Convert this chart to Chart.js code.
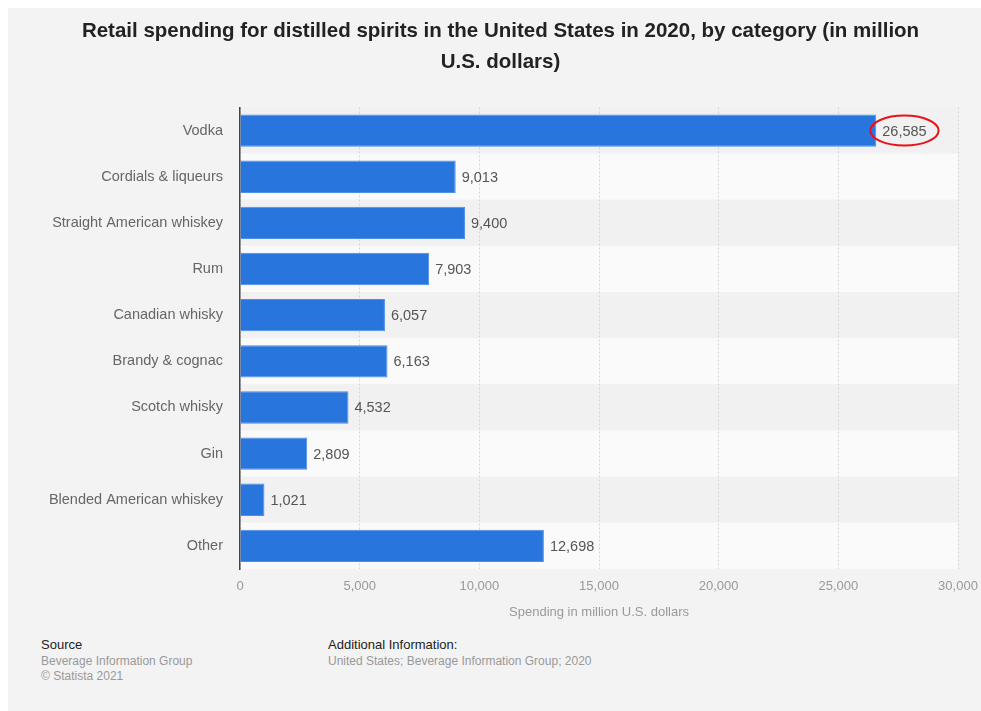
<!DOCTYPE html>
<html>
<head>
<meta charset="utf-8">
<script src="https://cdn.jsdelivr.net/npm/chart.js@4/dist/chart.umd.min.js"></script>
<style>
  body { margin: 0; background: #fff; overflow: hidden; font-family: "Liberation Sans", Arial, sans-serif; }
  #panel { position: absolute; left: 8px; top: 8px; width: 973px; height: 703px; background: #f3f3f3; }
  #spirits { position: absolute; left: 0; top: 0; }
  .foot { position: absolute; font-size: 12px; line-height: 15px; color: #999; }
  .foot b { display: block; font-weight: normal; font-size: 13px; color: #222; margin-bottom: 2px; }
</style>
</head>
<body>
<div id="panel">
  <canvas id="spirits" width="973" height="612"></canvas>
  <div class="foot" style="left:33px; top:629px;"><b>Source</b>Beverage Information Group<br>© Statista 2021</div>
  <div class="foot" style="left:320px; top:629px;"><b>Additional Information:</b>United States; Beverage Information Group; 2020</div>
</div>
<script>
"use strict";
var categories = ['Vodka', 'Cordials & liqueurs', 'Straight American whiskey', 'Rum', 'Canadian whisky',
  'Brandy & cognac', 'Scotch whisky', 'Gin', 'Blended American whiskey', 'Other'];
var spending = [26585, 9013, 9400, 7903, 6057, 6163, 4532, 2809, 1021, 12698];
var axisMax = 30000;
var axisStep = 5000;
var highlightIndex = 0; // value circled in red

Chart.defaults.font.family = '"Liberation Sans", Arial, sans-serif';

var fmt = (v) => Number(v).toLocaleString('en-US');

// alternating row stripes behind the bars
var stripes = {
  id: 'stripes',
  beforeDraw(chart) {
    var ctx = chart.ctx, area = chart.chartArea, y = chart.scales.y;
    var half = (y.getPixelForValue(1) - y.getPixelForValue(0)) / 2;
    ctx.save();
    categories.forEach((c, i) => {
      var py = y.getPixelForValue(i);
      ctx.fillStyle = i % 2 ? '#fafafa' : '#f1f1f1';
      ctx.fillRect(area.left, py - half, area.right - area.left, half * 2);
    });
    ctx.restore();
  }
};

// value labels next to the bars + red ring
var valueLabels = {
  id: 'valueLabels',
  afterDatasetsDraw(chart) {
    var ctx = chart.ctx;
    var bars = chart.getDatasetMeta(0).data;
    ctx.save();
    ctx.font = '14.5px "Liberation Sans", Arial, sans-serif';
    ctx.fillStyle = '#555';
    ctx.textBaseline = 'middle';
    ctx.textAlign = 'left';
    bars.forEach((bar, i) => {
      var txt = fmt(spending[i]);
      var x = bar.x + 6;
      ctx.fillText(txt, x, bar.y + 1);
      if (i === highlightIndex) {
        var w = ctx.measureText(txt).width;
        ctx.beginPath();
        ctx.ellipse(x + w / 2, bar.y, w / 2 + 12, 15, 0, 0, Math.PI * 2);
        ctx.strokeStyle = '#e5131b';
        ctx.lineWidth = 2;
        ctx.stroke();
      }
    });
    ctx.restore();
  }
};

var chart = new Chart(document.getElementById('spirits').getContext('2d'), {
  type: 'bar',
  data: {
    labels: categories,
    datasets: [{
      data: spending,
      backgroundColor: '#2876dd',
      borderColor: '#4b8fe6',
      borderWidth: 1,
      barPercentage: 0.7,
      categoryPercentage: 1
    }]
  },
  options: {
    indexAxis: 'y',
    responsive: false,
    animation: false,
    layout: { padding: { left: 35, right: 23, top: 0, bottom: 0 } },
    plugins: {
      legend: { display: false },
      tooltip: { enabled: false },
      title: {
        display: true,
        text: ['Retail spending for distilled spirits in the United States in 2020, by category (in million', 'U.S. dollars)'],
        color: '#222',
        font: { size: 20.5, weight: 'bold', lineHeight: 1.5 },
        padding: { top: 8, bottom: 30 }
      }
    },
    scales: {
      x: {
        min: 0,
        max: axisMax,
        ticks: { stepSize: axisStep, color: '#999', font: { size: 13 }, padding: 10, callback: (v) => fmt(v) },
        grid: { color: '#d6d6d6', drawTicks: false, tickBorderDash: [2, 2] },
        border: { display: false, dash: [2, 2] },
        title: { display: true, text: 'Spending in million U.S. dollars', color: '#999', font: { size: 13 }, padding: { top: 4, bottom: 0 } },
        afterFit(scale) {
          scale.height = 51;
          // "30,000" may hang past the edge, the layout padding covers it
          scale.paddingRight = 0;
        }
      },
      y: {
        ticks: { color: '#666', font: { size: 14.5 }, padding: 17 },
        grid: { display: false, drawTicks: false },
        border: { display: true, color: '#444', width: 1.5 },
        afterFit(scale) { scale.width = 197; }
      }
    }
  },
  plugins: [stripes, valueLabels]
});
</script>
</body>
</html>
